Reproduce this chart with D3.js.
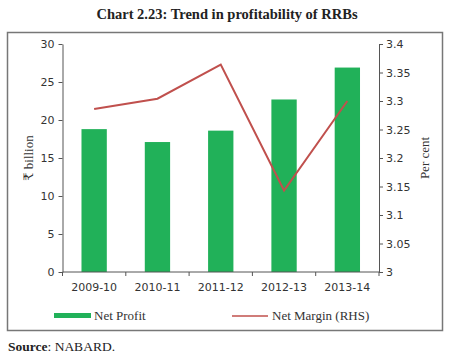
<!DOCTYPE html>
<html><head><meta charset="utf-8">
<script src="https://cdn.jsdelivr.net/npm/d3@7"></script>
<style>body{margin:0;background:#fff}svg{display:block}</style>
</head><body>
<script>
const categories = ["2009-10","2010-11","2011-12","2012-13","2013-14"];
const netProfit = [18.8, 17.1, 18.6, 22.7, 26.9];
const netMargin = [3.286, 3.304, 3.364, 3.143, 3.30];
const leftTicks = [0,5,10,15,20,25,30];
const rightTicks = [3,3.05,3.1,3.15,3.2,3.25,3.3,3.35,3.4];

const W=455,H=358;
const svg=d3.select("body").append("svg").attr("width",W).attr("height",H);
const serif="'Liberation Serif','DejaVu Serif',serif";
const sans="'DejaVu Sans','Liberation Sans',sans-serif";
const axisCol="#555";

svg.append("text").attr("x",227).attr("y",19).attr("text-anchor","middle")
  .attr("font-family",serif).attr("font-weight","bold").attr("font-size",14.5).attr("fill","#222")
  .text("Chart 2.23: Trend in profitability of RRBs");

svg.append("rect").attr("x",7.5).attr("y",32.5).attr("width",435).attr("height",298)
  .attr("fill","none").attr("stroke","#777").attr("stroke-width",1.5);

const x0=62.5,x1=379,yTop=44,yBot=272;
const x=d3.scaleBand().domain(categories).range([x0,x1]).paddingInner(0.6).paddingOuter(0.3);
const yL=d3.scaleLinear().domain([0,30]).range([yBot,yTop]);
const yR=d3.scaleLinear().domain([3,3.4]).range([yBot,yTop]);

svg.selectAll(".bar").data(netProfit).join("rect").attr("class","bar")
  .attr("x",(d,i)=>x(categories[i])).attr("width",x.bandwidth())
  .attr("y",d=>yL(d)).attr("height",d=>yBot-yL(d)).attr("fill","#21b159");

const line=d3.line().x((d,i)=>x(categories[i])+x.bandwidth()/2).y(d=>yR(d));
svg.append("path").datum(netMargin).attr("d",line).attr("fill","none")
  .attr("stroke","#c0504d").attr("stroke-width",2);

function style(g){
  g.selectAll("path,line").attr("stroke",axisCol);
  g.selectAll("text").attr("font-family",sans).attr("font-size",11).attr("fill","#333");
}
const gl=svg.append("g").attr("transform",`translate(${x0},0)`)
  .call(d3.axisLeft(yL).tickValues(leftTicks).tickSize(4).tickSizeOuter(0).tickPadding(4));
style(gl);
const gr=svg.append("g").attr("transform",`translate(${x1},0)`)
  .call(d3.axisRight(yR).tickValues(rightTicks).tickFormat(d3.format("~g")).tickSize(4).tickSizeOuter(0).tickPadding(3));
style(gr);
const gx=svg.append("g").attr("transform",`translate(0,${yBot})`);
gx.append("line").attr("x1",x0).attr("x2",x1).attr("stroke",axisCol);
const bounds=d3.range(categories.length+1).map(i=>x0+i*x.step());
gx.selectAll(".tk").data(bounds).join("line").attr("x1",d=>d).attr("x2",d=>d).attr("y1",0).attr("y2",4).attr("stroke",axisCol);
gx.selectAll(".lb").data(categories).join("text").attr("x",d=>x(d)+x.bandwidth()/2).attr("y",19)
  .attr("text-anchor","middle").attr("font-family",sans).attr("font-size",11).attr("fill","#333").text(d=>d);

svg.append("text").attr("transform",`translate(33,${(yTop+yBot)/2}) rotate(-90)`).attr("text-anchor","middle")
  .attr("font-family",serif).attr("font-size",13).attr("fill","#333").text("₹ billion");
svg.append("text").attr("transform",`translate(429,${(yTop+yBot)/2}) rotate(-90)`).attr("text-anchor","middle")
  .attr("font-family",serif).attr("font-size",13).attr("fill","#333").text("Per cent");

svg.append("rect").attr("x",54).attr("y",313).attr("width",37).attr("height",5).attr("fill","#21b159");
svg.append("text").attr("x",94).attr("y",320).attr("font-family",serif).attr("font-size",13).attr("fill","#333").text("Net Profit");
svg.append("line").attr("x1",232).attr("x2",268).attr("y1",316).attr("y2",316).attr("stroke","#c0504d").attr("stroke-width",1.5);
svg.append("text").attr("x",272).attr("y",320).attr("font-family",serif).attr("font-size",13).attr("fill","#333").text("Net Margin (RHS)");

const src=svg.append("text").attr("x",8).attr("y",351).attr("font-family",serif).attr("font-size",13.5).attr("fill","#222");
src.append("tspan").attr("font-weight","bold").text("Source");
src.append("tspan").text(": NABARD.");
</script>
</body></html>
